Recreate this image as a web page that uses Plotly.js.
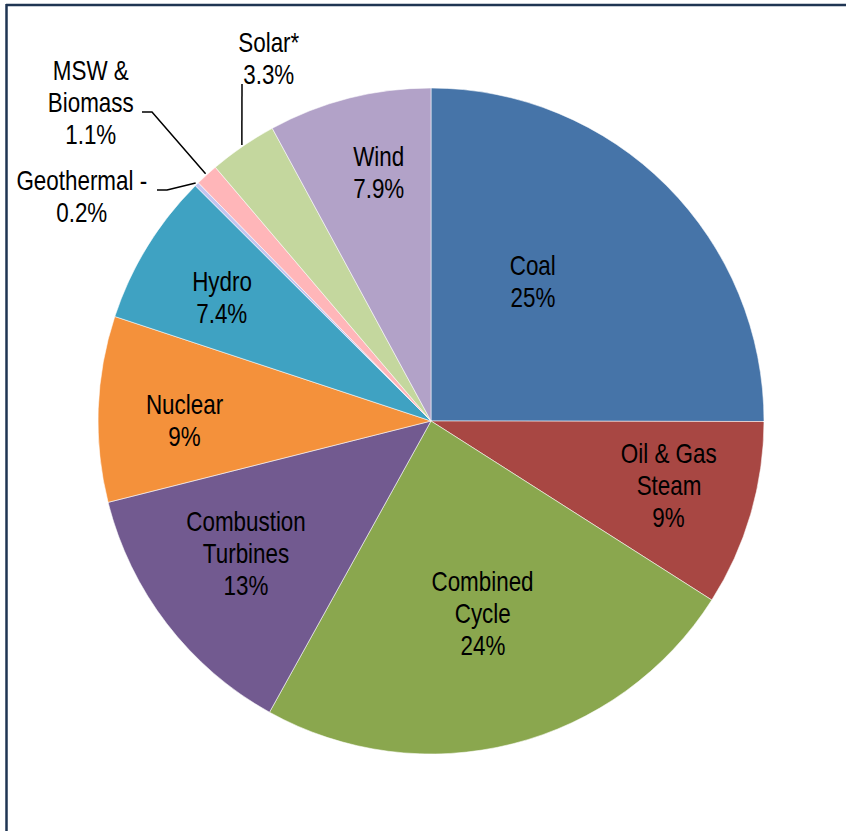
<!DOCTYPE html>
<html>
<head>
<meta charset="utf-8">
<script src="https://cdn.plot.ly/plotly-3.0.1.min.js"></script>
<style>
  html, body { margin: 0; padding: 0; background: #ffffff; }
  #chart { width: 846px; height: 831px; }
</style>
</head>
<body>
<div id="chart"></div>
<script>
// ---- Data ----
const categories = ['Coal', 'Oil & Gas Steam', 'Combined Cycle', 'Combustion Turbines', 'Nuclear',
                    'Hydro', 'Geothermal', 'MSW & Biomass', 'Solar*', 'Wind'];
const shares = [25, 9, 24, 13, 9, 7.4, 0.2, 1.1, 3.3, 7.9];
const shareLabels = ['25%', '9%', '24%', '13%', '9%', '7.4%', '0.2%', '1.1%', '3.3%', '7.9%'];
const labelLines = [['Coal'], ['Oil & Gas', 'Steam'], ['Combined', 'Cycle'], ['Combustion', 'Turbines'],
                    ['Nuclear'], ['Hydro'], ['Geothermal -'], ['MSW &', 'Biomass'], ['Solar*'], ['Wind']];

// ---- Styles / layout ----
const sliceColors = ['#4674A8', '#A84743', '#8AA74E', '#725A90', '#F4913B',
                     '#3FA2C2', '#C5C5F0', '#FFB6B9', '#C4D79E', '#B2A2C8'];
const W = 846, H = 831;
const CX = 431, CY = 421, R = 333;
const FONT = '"Liberation Sans", Arial, sans-serif';
const FONT_SIZE = 27, LINE_GAP = 32, NARROW = 0.83;

// inside labels: [radius fraction, angle offset deg] ; external labels: anchor + leader elbow
const insidePlacement = {0: [0.517, -8.7], 1: [0.74, -0.9], 2: [0.6, -0.8], 3: [0.685, 1.9],
                         4: [0.74, -2.0], 5: [0.73, -1.1], 9: [0.76, 2.4]};
const outsidePlacement = {
  6: {text: [82, 197], leader: [[157, 190], [167, 190]]},
  7: {text: [91, 103], leader: [[142, 112], [152, 112]]},
  8: {text: [269, 59], leader: [[242, 84]]}
};

const px2x = p => p / W;
const py2y = p => 1 - p / H;

const total = shares.reduce((a, b) => a + b, 0);
const midAngles = [];
let acc = 0;
shares.forEach(v => { midAngles.push((acc + v / 2) / total * 360); acc += v; });

const annotations = [];
const shapes = [];

function addLabel(idx, px, py) {
  const lines = labelLines[idx].concat([shareLabels[idx]]);
  const n = lines.length;
  lines.forEach((t, i) => {
    annotations.push({
      x: px2x(px), y: py2y(py), xref: 'paper', yref: 'paper',
      text: t, showarrow: false, xanchor: 'center', yanchor: 'middle',
      yshift: ((n - 1) / 2 - i) * LINE_GAP,
      font: {family: FONT, size: FONT_SIZE, color: '#000000'}
    });
  });
}

categories.forEach((c, i) => {
  if (insidePlacement[i]) {
    const [f, off] = insidePlacement[i];
    const th = (midAngles[i] + off) * Math.PI / 180;
    addLabel(i, CX + f * R * Math.sin(th), CY - f * R * Math.cos(th));
  } else if (outsidePlacement[i]) {
    const o = outsidePlacement[i];
    addLabel(i, o.text[0], o.text[1]);
    const th = midAngles[i] * Math.PI / 180;
    const end = [CX + 1.005 * R * Math.sin(th), CY - 1.005 * R * Math.cos(th)];
    const pts = o.leader.concat([end]);
    const path = pts.map((p, k) => (k === 0 ? 'M ' : 'L ') + px2x(p[0]) + ' ' + py2y(p[1])).join(' ');
    shapes.push({type: 'path', xref: 'paper', yref: 'paper', path: path,
                 line: {color: '#000000', width: 1.5}});
  }
});

// frame lines (top and left)
shapes.push({type: 'line', xref: 'paper', yref: 'paper', x0: px2x(6), x1: 1, y0: py2y(5), y1: py2y(5),
             line: {color: '#1F3553', width: 2.5}});
shapes.push({type: 'line', xref: 'paper', yref: 'paper', x0: px2x(6.5), x1: px2x(6.5), y0: py2y(4), y1: 0,
             line: {color: '#1F3553', width: 2.5}});

const trace = {
  type: 'pie',
  labels: categories,
  values: shares,
  sort: false,
  direction: 'clockwise',
  rotation: 0,
  textinfo: 'none',
  hoverinfo: 'label+percent',
  marker: {colors: sliceColors, line: {color: 'rgba(255,255,255,0.55)', width: 1}},
  domain: {x: [(CX - R) / W, (CX + R) / W], y: [1 - (CY + R) / H, 1 - (CY - R) / H]}
};

const layout = {
  width: W, height: H,
  margin: {l: 0, r: 0, t: 0, b: 0},
  showlegend: false,
  paper_bgcolor: '#ffffff',
  annotations: annotations,
  shapes: shapes
};

Plotly.newPlot('chart', [trace], layout, {displayModeBar: false, staticPlot: true}).then(() => {
  // condense label text horizontally (Arial Narrow look), keeping it centred
  document.querySelectorAll('#chart text.annotation-text').forEach(t => {
    const bb = t.getBBox();
    const c = bb.x + bb.width / 2;
    const prev = t.getAttribute('transform') || '';
    t.setAttribute('transform', prev + ` translate(${c},0) scale(${NARROW},1) translate(${-c},0)`);
  });
});
</script>
</body>
</html>
